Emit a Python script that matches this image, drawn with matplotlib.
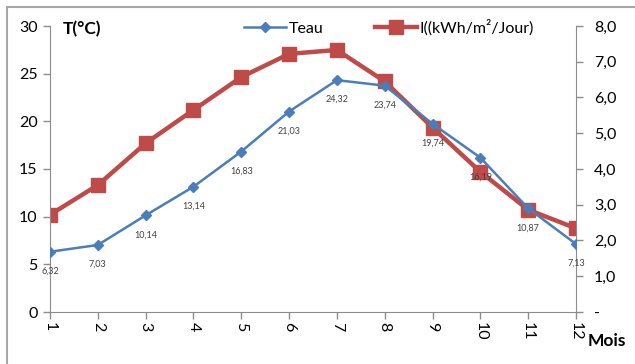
import matplotlib.pyplot as plt
from matplotlib.patches import Rectangle

mois = [1, 2, 3, 4, 5, 6, 7, 8, 9, 10, 11, 12]
teau = [6.32, 7.03, 10.14, 13.14, 16.83, 21.03, 24.32, 23.74, 19.74, 16.19, 10.87, 7.13]
irr = [2.72, 3.55, 4.72, 5.65, 6.57, 7.22, 7.33, 6.45, 5.16, 3.92, 2.86, 2.34]

blue = '#4A7EBB'
red = '#BE4B48'
grey = '#8C8C8C'
plt.rcParams['font.family'] = ['Lato', 'DejaVu Sans']

fig = plt.figure(figsize=(6.35, 3.64), dpi=100)
fig.patches.append(Rectangle((7 / 635, -0.1), 1.2, (364 - 7) / 364 + 0.1,
                             transform=fig.transFigure, fill=False,
                             edgecolor='#A6A6A6', linewidth=1.5))

ax = fig.add_axes([50 / 635, 52 / 364, 526 / 635, 286 / 364])
ax2 = ax.twinx()
ax.set_zorder(ax2.get_zorder() + 1)
ax.patch.set_visible(False)

l1, = ax.plot(mois, teau, color=blue, lw=1.8, marker='D', ms=5, label='Teau', zorder=5)
l2, = ax2.plot(mois, irr, color=red, lw=3.2, marker='s', ms=10.5, label='I((kWh/m²/Jour)')

for x, v in zip(mois, teau):
    ax.annotate(('%.2f' % v).replace('.', ','), (x, v), xytext=(0, -14),
                textcoords='offset points', ha='center', va='center',
                fontsize=6.5, color='#404040')

ax.set_xlim(1, 12)
ax.set_ylim(0, 30)
ax.set_yticks(range(0, 31, 5))
ax.set_xticks(mois)
ax.set_xticklabels([str(m) for m in mois], rotation=-90)
ax2.set_ylim(0, 8)
ax2.set_yticks(range(0, 9))
ax2.set_yticklabels(['-'] + ['%d,0' % i for i in range(1, 9)])

for a in (ax, ax2):
    for s in a.spines.values():
        s.set_visible(False)
    a.tick_params(colors=grey, labelcolor='black', labelsize=11.5, length=5, width=1)
ax.spines['left'].set_visible(True)
ax.spines['bottom'].set_visible(True)
ax2.spines['right'].set_visible(True)
for s in (ax.spines['left'], ax.spines['bottom'], ax2.spines['right']):
    s.set_color(grey)
ax.tick_params(axis='y', pad=4)
ax2.tick_params(axis='y', pad=8)
ax.tick_params(axis='x', pad=2)

ax.text(0.024, 0.99, 'T(°C)', transform=ax.transAxes, fontsize=12.5, fontweight='bold', va='center')
ax.text(1.022, -0.1, 'Mois', transform=ax.transAxes, fontsize=12.5, fontweight='bold', va='center')

ax.legend([l1, l2], ['Teau', 'I((kWh/m²/Jour)'], loc='center', bbox_to_anchor=(0.645, 0.995),
          ncol=2, frameon=False, fontsize=11.5, handlelength=2.6, columnspacing=3.2,
          handletextpad=0.2)

fig.savefig('out.png', dpi=100)
